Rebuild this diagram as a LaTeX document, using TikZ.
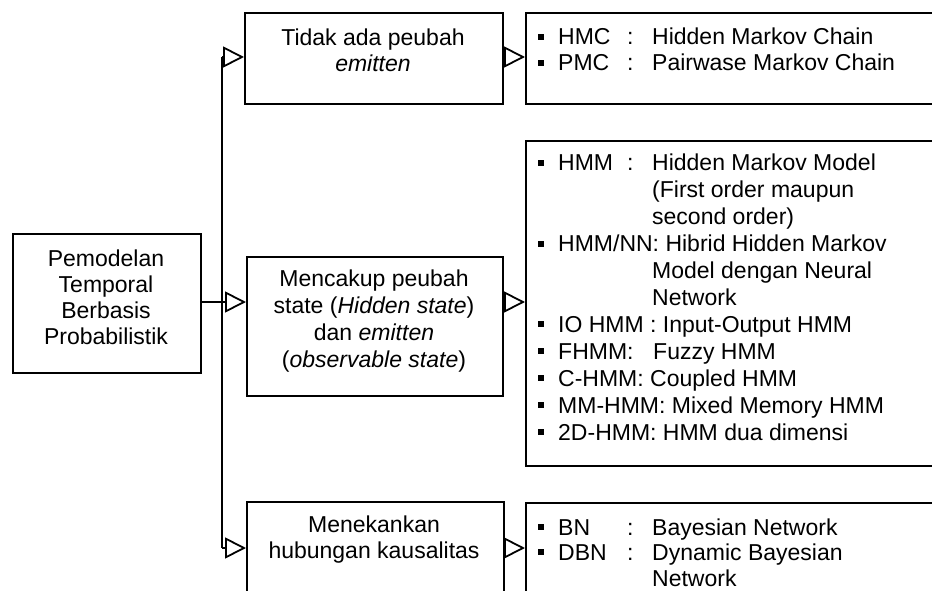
\documentclass[tikz,border=0pt]{standalone}
\usepackage{fontspec}
\setmainfont{Liberation Sans}
\usetikzlibrary{arrows.meta}
\begin{document}
\begin{tikzpicture}[x=1pt,y=-1pt,
  box/.style={draw, line width=1.8pt, inner sep=0pt, anchor=north west},
  lbl/.style={font=\fontsize{23}{26}\selectfont, align=center, inner sep=0pt},
  item/.style={font=\fontsize{23}{27}\selectfont, anchor=base west, inner sep=0pt},
  conn/.style={line width=1.8pt},
  arr/.style={line width=1.8pt, -{Triangle[open,length=21pt,width=21pt,line width=1.8pt]}},
  bul/.style={fill, minimum size=6pt, inner sep=0pt}]
\clip (0,0) rectangle (932,591);

% main box
\node[box, minimum width=188pt, minimum height=139pt] (L) at (12,233) {};
\node[lbl] (Ltxt) at (106,297) {Pemodelan\\Temporal\\Berbasis\\Probabilistik};

% category boxes
\node[box, minimum width=258pt, minimum height=91pt] (T1) at (244,12) {};
\node[lbl] (T1txt) at (373,50) {Tidak ada peubah\\\textit{emitten}};
\node[box, minimum width=256pt, minimum height=139pt] (T2) at (246,256) {};
\node[lbl, font=\fontsize{23}{27}\selectfont] (T2txt) at (374,321)
  {Mencakup peubah\\state (\textit{Hidden state})\\dan \textit{emitten}\\(\textit{observable state})};
\node[box, minimum width=257pt, minimum height=130pt] (T3) at (246,501) {};
\node[lbl] (T3txt) at (374,540) {Menekankan\\hubungan kausalitas};

% model list boxes
\node[box, minimum width=430pt, minimum height=91pt] (R1) at (525,12) {};
\node[box, minimum width=430pt, minimum height=325pt] (R2) at (525,140) {};
\node[box, minimum width=430pt, minimum height=130pt] (R3) at (525,502) {};

% list: no emitted variable
\node[bul] (b11) at (541,37) {};
\node[item] (a11) at (558,45) {HMC};
\node[item] (c11) at (627,45) {:};
\node[item] (d11) at (652,45) {Hidden Markov Chain};
\node[bul] (b12) at (541,63) {};
\node[item] (a12) at (558,71) {PMC};
\node[item] (c12) at (627,71) {:};
\node[item] (d12) at (652,71) {Pairwase Markov Chain};

% list: hidden state and emission
\node[bul] (b21) at (541,163) {};
\node[item] (a21) at (558,171) {HMM};
\node[item] (c21) at (627,171) {:};
\node[item] (d21) at (652,171) {Hidden Markov Model};
\node[item] (d22) at (652,197.9) {(First order maupun};
\node[item] (d23) at (652,224.8) {second order)};
\node[bul] (b24) at (541,243.7) {};
\node[item] (a24) at (558,251.7) {HMM/NN: Hibrid Hidden Markov};
\node[item] (d25) at (652,278.6) {Model dengan Neural};
\node[item] (d26) at (652,305.5) {Network};
\node[bul] (b27) at (541,324.4) {};
\node[item] (a27) at (558,332.4) {IO HMM : Input-Output HMM};
\node[bul] (b28) at (541,351.3) {};
\node[item] (a28) at (558,359.3) {FHMM:};
\node[item] (d28) at (653,359.3) {Fuzzy HMM};
\node[bul] (b29) at (541,378.2) {};
\node[item] (a29) at (558,386.2) {C-HMM: Coupled HMM};
\node[bul] (b210) at (541,405.1) {};
\node[item] (a210) at (558,413.1) {MM-HMM: Mixed Memory HMM};
\node[bul] (b211) at (541,432) {};
\node[item] (a211) at (558,440) {2D-HMM: HMM dua dimensi};

% list: causal relations
\node[bul] (b31) at (541,527) {};
\node[item] (a31) at (558,535) {BN};
\node[item] (c31) at (627,535) {:};
\node[item] (d31) at (652,535) {Bayesian Network};
\node[bul] (b32) at (541,552) {};
\node[item] (a32) at (558,560) {DBN};
\node[item] (c32) at (627,560) {:};
\node[item] (d32) at (652,560) {Dynamic Bayesian};
\node[item] (d33) at (652,586) {Network};

% branching connectors
\coordinate (j1) at (222,57);
\coordinate (j2) at (222,302);
\coordinate (j3) at (222,548);
\draw[conn] (j1) -- (j3);
\draw[arr] (L.east |- j2) -- (T2.west |- j2);
\draw[arr] (j1) -- (T1.west |- j1);
\draw[arr] (j3) -- (T3.west |- j3);
\draw[arr] (T1.east |- j1) -- (R1.west |- j1);
\draw[arr] (T2.east |- j2) -- (R2.west |- j2);
\draw[arr] (T3.east |- j3) -- (R3.west |- j3);
\end{tikzpicture}
\end{document}
